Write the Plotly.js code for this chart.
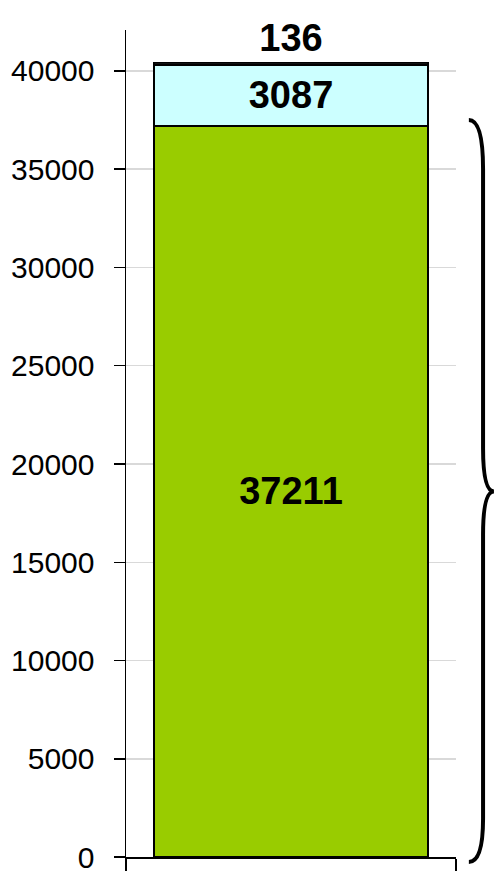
<!DOCTYPE html>
<html>
<head>
<meta charset="utf-8">
<script src="https://cdn.plot.ly/plotly-3.0.1.min.js"></script>
<style>
  html, body { margin: 0; padding: 0; background: #fff; }
  #chart { width: 494px; height: 871px; }
</style>
</head>
<body>
<div id="chart"></div>
<script>
// ---- data ----
var categories = ['Total'];
var baseValues = [37211];   // green
var midValues = [3087];     // light cyan
var topValues = [136];      // dark strip
var yTickVals = [0, 5000, 10000, 15000, 20000, 25000, 30000, 35000, 40000];
var yTickText = ['0', '5000', '10000', '15000', '20000', '25000', '30000', '35000', '40000'];

// ---- styling / layout constants ----
var YMAX = 42086;
var tickFont = { family: 'Liberation Sans, Arial, sans-serif', size: 30, color: '#000' };
var labelFont = { family: 'Liberation Sans, Arial, sans-serif', size: 38, color: '#000', weight: 'bold' };
var outline = { color: '#000', width: 1.5 };

function labels(arr) { return arr.map(function (v) { return String(v); }); }

var traces = [
  {
    type: 'bar', x: categories, y: baseValues, width: 0.83,
    marker: { color: '#99CC00', line: outline },
    text: labels(baseValues), textposition: 'inside', insidetextanchor: 'middle',
    textfont: labelFont, hoverinfo: 'none', cliponaxis: false
  },
  {
    type: 'bar', x: categories, y: midValues, width: 0.83,
    marker: { color: '#CCFFFF', line: outline },
    text: labels(midValues), textposition: 'inside', insidetextanchor: 'middle',
    textfont: labelFont, hoverinfo: 'none', cliponaxis: false
  },
  {
    type: 'bar', x: categories, y: topValues, width: 0.83,
    marker: { color: '#111111', line: outline },
    text: labels(topValues), textposition: 'outside',
    textfont: labelFont, outsidetextfont: labelFont, hoverinfo: 'none', cliponaxis: false
  }
];

// brace spanning the base segment (built from data)
var bTop = baseValues[0] / YMAX;
var bBot = 0;
var bMid = (bTop + bBot) / 2;
var r = 2200 / YMAX;
var xt = 1.039, xs = 1.082, xm = 1.115;
function p(x, y) { return x.toFixed(4) + ',' + y.toFixed(5); }
var bracePath =
  'M ' + p(xt, bTop + 300 / YMAX) +
  ' Q ' + p(xs, bTop + 300 / YMAX) + ' ' + p(xs, bTop - r) +
  ' L ' + p(xs, bMid + r) +
  ' Q ' + p(xs, bMid) + ' ' + p(xm, bMid) +
  ' Q ' + p(xs, bMid) + ' ' + p(xs, bMid - r) +
  ' L ' + p(xs, bBot - 250 / YMAX + r) +
  ' Q ' + p(xs, bBot - 250 / YMAX) + ' ' + p(xt, bBot - 250 / YMAX);

var layout = {
  width: 494, height: 871,
  margin: { l: 126, r: 38, t: 30, b: 14, pad: 0 },
  paper_bgcolor: '#fff', plot_bgcolor: '#fff',
  barmode: 'stack',
  showlegend: false,
  xaxis: {
    type: 'category', range: [-0.5, 0.5],
    showticklabels: false, showgrid: false,
    showline: true, linecolor: '#000', linewidth: 1.5,
    ticks: 'outside', tickson: 'boundaries', ticklen: 14, tickwidth: 1.5, tickcolor: '#000',
    zeroline: false, fixedrange: true
  },
  yaxis: {
    range: [0, YMAX], tickvals: yTickVals, ticktext: yTickText,
    tickfont: tickFont, ticks: 'outside', ticklen: 11, tickwidth: 1.5, tickcolor: '#000',
    ticklabelstandoff: 13, ticklabeloverflow: 'allow',
    showline: true, linecolor: '#000', linewidth: 1.5,
    showgrid: true, gridcolor: '#d9d9d9', gridwidth: 1.5,
    zeroline: false, fixedrange: true
  },
  shapes: [
    { type: 'path', xref: 'paper', yref: 'paper', path: bracePath,
      line: { color: '#000', width: 4 }, fillcolor: 'rgba(0,0,0,0)', layer: 'above' }
  ]
};

Plotly.newPlot('chart', traces, layout, { staticPlot: true, displayModeBar: false });
</script>
</body>
</html>
